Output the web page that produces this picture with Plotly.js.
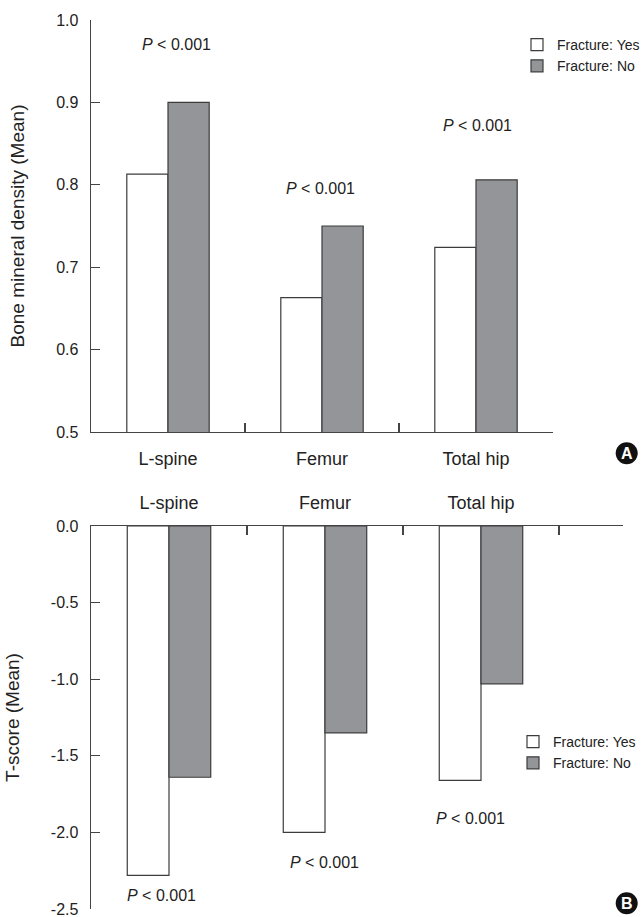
<!DOCTYPE html>
<html>
<head>
<meta charset="utf-8">
<script src="https://cdn.plot.ly/plotly-3.0.1.min.js"></script>
<style>html,body{margin:0;padding:0;background:#fff;}#chart{width:642px;height:917px;}</style>
</head>
<body>
<div id="chart"></div>
<script>
// ---- data ----
const sites = ['L-spine', 'Femur', 'Total hip'];
const bmdFractureYes = [0.813, 0.663, 0.724];
const bmdFractureNo = [0.900, 0.750, 0.806];
const tFractureYes = [-2.28, -2.00, -1.66];
const tFractureNo = [-1.64, -1.35, -1.03];
const pLabel = '<i>P</i> < 0.001';
const bmdTickVals = [0.5, 0.6, 0.7, 0.8, 0.9, 1.0];
const bmdTickText = ['0.5', '0.6', '0.7', '0.8', '0.9', '1.0'];
const tTickVals = [0, -0.5, -1.0, -1.5, -2.0, -2.5];
const tTickText = ['0.0', '-0.5', '-1.0', '-1.5', '-2.0', '-2.5'];
// p-label anchor values (data units)
const bmdPLabelY = [0.970, 0.795, 0.872];
const tPLabelY = [-2.414, -2.196, -1.907];

// ---- styling ----
const FONT = 'Liberation Sans, Arial, Helvetica, sans-serif';
const AX = '#444';
const GRAY = '#939598';
const EDGE = '#3c3c3c';

// pixel geometry helpers (paper = whole page)
const W = 642, H = 917;
const pxX = p => p / W;
const pxY = p => 1 - p / H;

const traces = [
  {type: 'bar', name: 'Fracture: Yes', x: sites, y: bmdFractureYes, xaxis: 'x', yaxis: 'y',
   marker: {color: '#ffffff', line: {color: EDGE, width: 1.2}}, legend: 'legend'},
  {type: 'bar', name: 'Fracture: No', x: sites, y: bmdFractureNo, xaxis: 'x', yaxis: 'y',
   marker: {color: GRAY, line: {color: EDGE, width: 1.2}}, legend: 'legend'},
  {type: 'bar', name: 'Fracture: Yes', x: sites, y: tFractureYes, xaxis: 'x2', yaxis: 'y2',
   marker: {color: '#ffffff', line: {color: EDGE, width: 1.2}}, legend: 'legend2'},
  {type: 'bar', name: 'Fracture: No', x: sites, y: tFractureNo, xaxis: 'x2', yaxis: 'y2',
   marker: {color: GRAY, line: {color: EDGE, width: 1.2}}, legend: 'legend2'}
];

const pXShiftA = [8, -2, 1];
const pXShiftB = [-8, -1, -11];
const annotations = [];
sites.forEach((s, i) => {
  annotations.push({x: s, y: bmdPLabelY[i], xref: 'x', yref: 'y', text: pLabel,
    showarrow: false, xshift: pXShiftA[i], font: {family: FONT, size: 16, color: '#222'}});
  annotations.push({x: s, y: tPLabelY[i], xref: 'x2', yref: 'y2', text: pLabel,
    showarrow: false, xshift: pXShiftB[i], font: {family: FONT, size: 16, color: '#222'}});
});
// panel letters
annotations.push({x: pxX(626.7), y: pxY(453.5), xref: 'paper', yref: 'paper', text: '<b>A</b>',
  xanchor: 'center', yanchor: 'middle', showarrow: false, font: {family: FONT, size: 16, color: '#fff'}});
annotations.push({x: pxX(626.7), y: pxY(903.5), xref: 'paper', yref: 'paper', text: '<b>B</b>',
  xanchor: 'center', yanchor: 'middle', showarrow: false, font: {family: FONT, size: 16, color: '#fff'}});

const circle = (cx, cy) => ({
  type: 'circle', xref: 'paper', yref: 'paper', layer: 'above',
  x0: pxX(cx - 11), x1: pxX(cx + 11), y0: pxY(cy + 11), y1: pxY(cy - 11),
  fillcolor: '#111', line: {width: 0}
});
const shapes = [circle(626.7, 453.3), circle(626.7, 903.3)];

const axCommon = {
  showgrid: false, zeroline: false, showline: true, linecolor: AX, linewidth: 1.4,
  ticks: 'inside', ticklen: 9, tickwidth: 1.2, tickcolor: AX, ticklabeloverflow: 'allow',
  tickfont: {family: FONT, size: 16, color: '#222'}, fixedrange: true
};

const layout = {
  width: W, height: H,
  margin: {l: 0, r: 0, t: 0, b: 0, pad: 0, autoexpand: false},
  paper_bgcolor: '#fff', plot_bgcolor: 'rgba(0,0,0,0)',
  font: {family: FONT, color: '#222'},
  barmode: 'group', bargap: 0.465, bargroupgap: 0,
  showlegend: true,
  xaxis: Object.assign({}, axCommon, {
    domain: [pxX(91), pxX(553)], anchor: 'y', type: 'category',
    range: [-0.5, 2.5], tickson: 'boundaries', ticklabelstandoff: 10,
    tickfont: {family: FONT, size: 18, color: '#222'}
  }),
  yaxis: Object.assign({}, axCommon, {
    domain: [pxY(432), pxY(20)], anchor: 'x', range: [0.5, 1.0],
    tickvals: bmdTickVals, ticktext: bmdTickText, ticklabelstandoff: 8,
    title: {text: 'Bone mineral density (Mean)', font: {family: FONT, size: 19, color: '#222'}, standoff: 26}
  }),
  xaxis2: Object.assign({}, axCommon, {
    domain: [pxX(91), pxX(623)], anchor: 'y2', side: 'top', type: 'category',
    range: [-0.5, 2.5 + 64 / 156], tickson: 'boundaries', ticklabelstandoff: 8,
    tickfont: {family: FONT, size: 18, color: '#222'}
  }),
  yaxis2: Object.assign({}, axCommon, {
    domain: [pxY(909), pxY(526)], anchor: 'x2', range: [-2.5, 0],
    tickvals: tTickVals, ticktext: tTickText, ticklabelstandoff: 8,
    title: {text: 'T-score (Mean)', font: {family: FONT, size: 19, color: '#222'}, standoff: 26}
  }),
  legend: {
    xref: 'container', yref: 'container', x: 517 / W, y: 1 - 29 / H, xanchor: 'left', yanchor: 'top',
    bgcolor: 'rgba(0,0,0,0)', font: {family: FONT, size: 14, color: '#222'}, tracegroupgap: 0
  },
  legend2: {
    xref: 'container', yref: 'container', x: 513 / W, y: 1 - 726 / H, xanchor: 'left', yanchor: 'top',
    bgcolor: 'rgba(0,0,0,0)', font: {family: FONT, size: 14, color: '#222'}, tracegroupgap: 0
  },
  annotations: annotations,
  shapes: shapes
};

Plotly.newPlot('chart', traces, layout, {displayModeBar: false, staticPlot: true});
</script>
</body>
</html>
